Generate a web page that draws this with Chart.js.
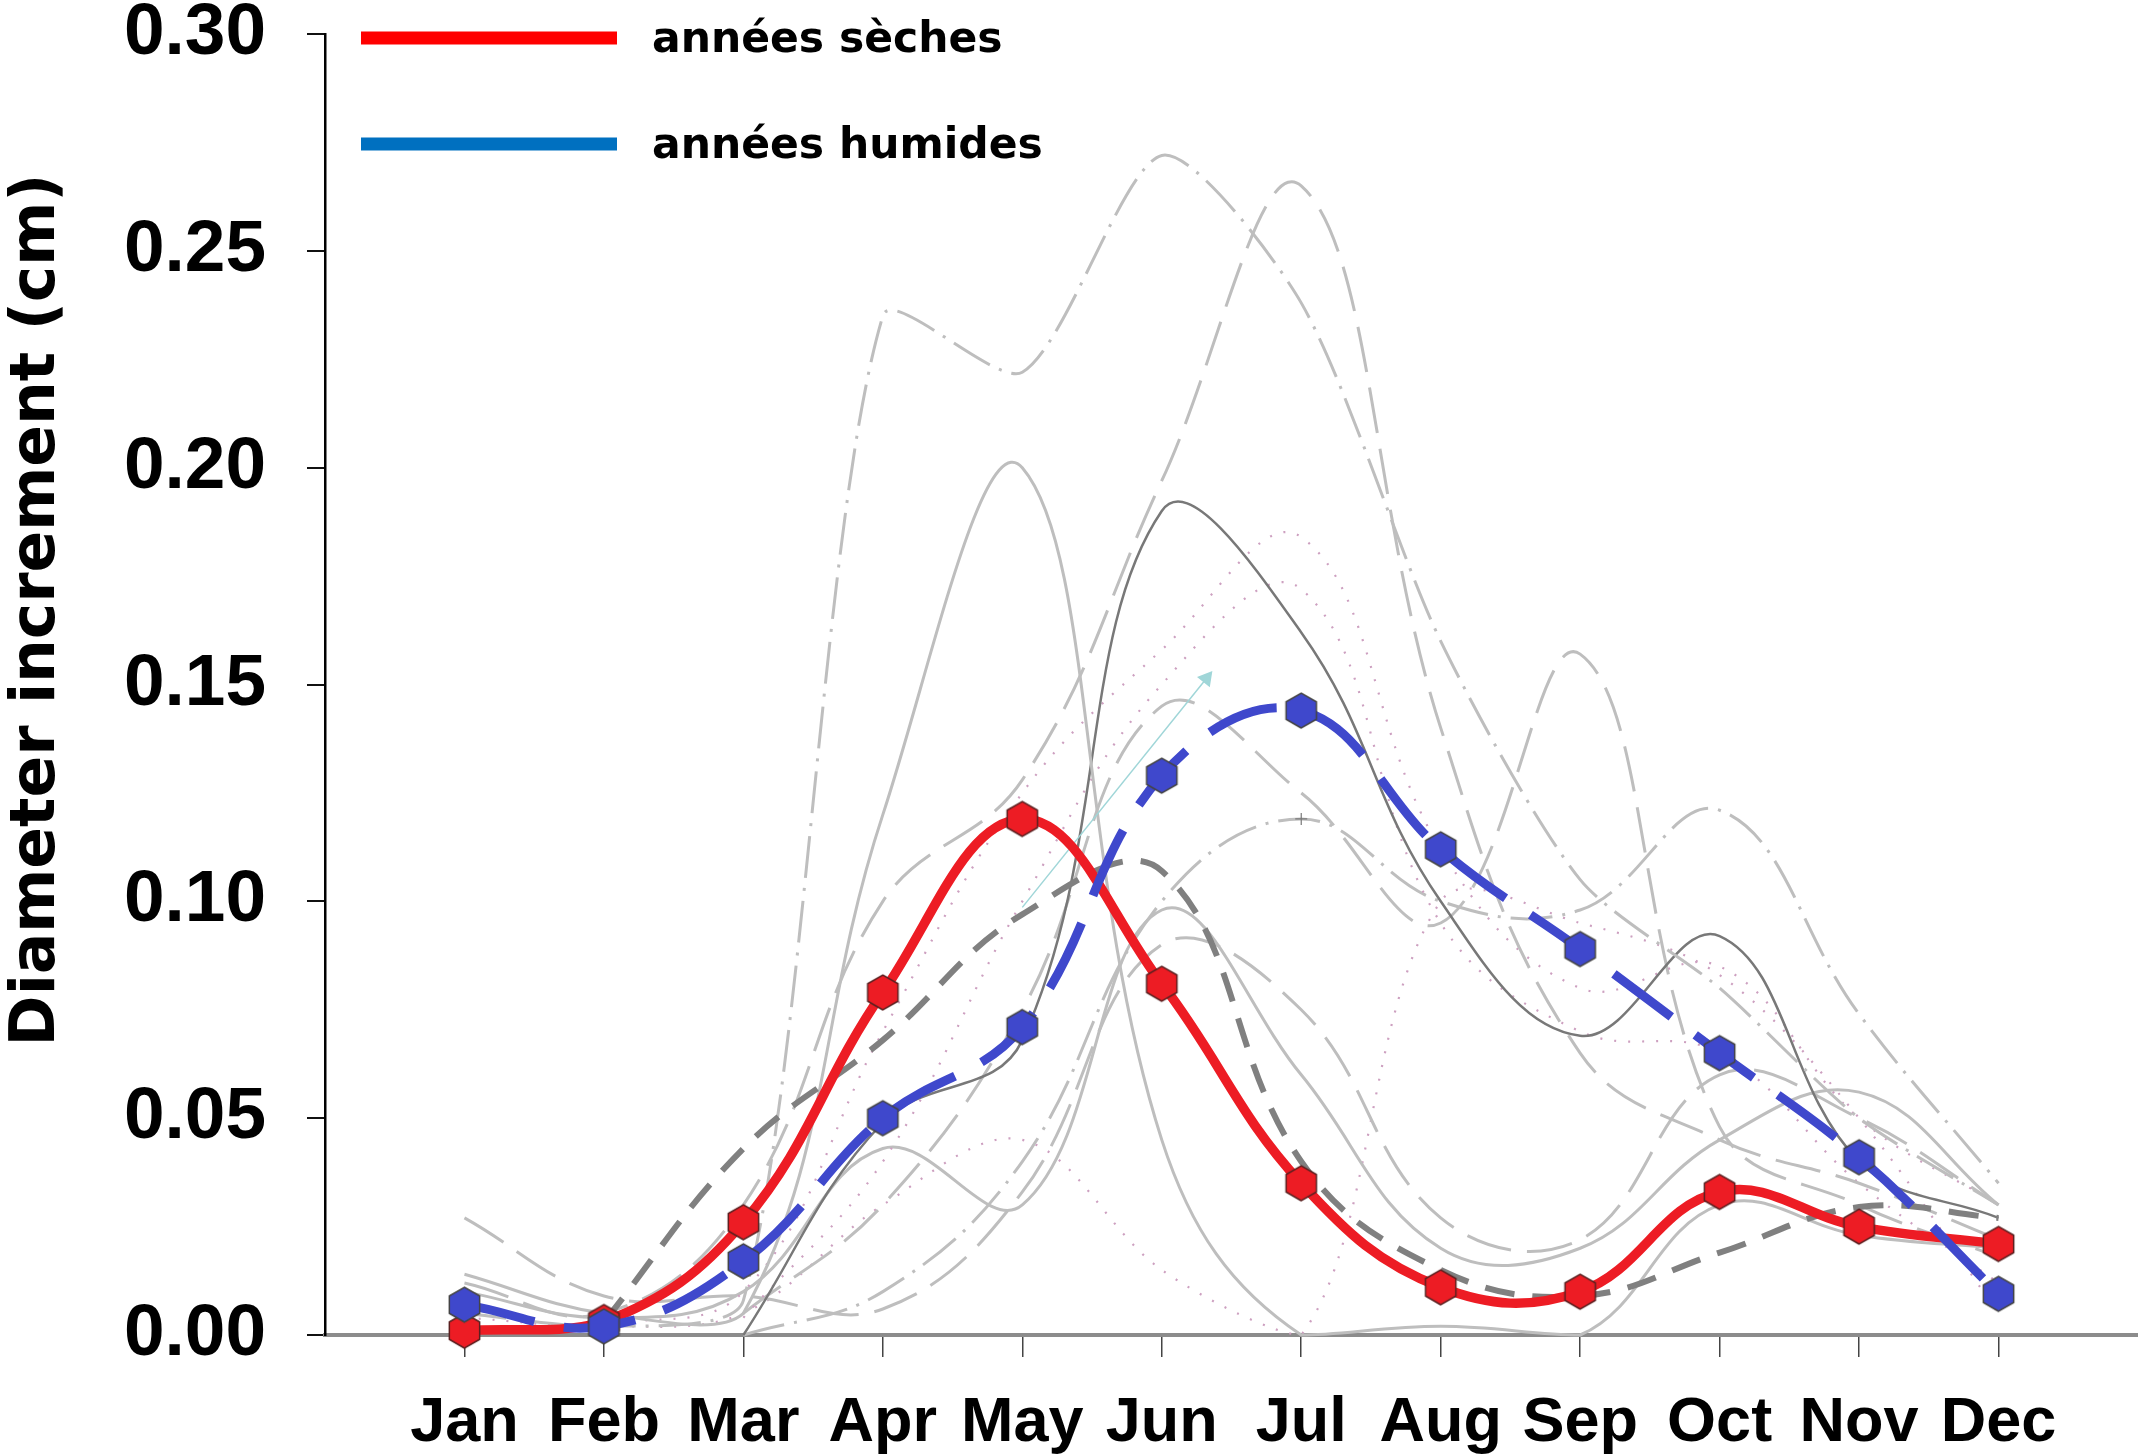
<!DOCTYPE html>
<html>
<head>
<meta charset="utf-8">
<title>Diameter increment</title>
<script src="https://cdn.jsdelivr.net/npm/chart.js"></script>
<style>
  html, body { margin: 0; padding: 0; background: #ffffff; }
  #wrap { width: 2138px; height: 1456px; position: relative; }
  canvas { display: block; }
</style>
</head>
<body>
<div id="wrap"><canvas id="chart" width="2138" height="1456"></canvas></div>
<script>
// ---- data -------------------------------------------------------------
const months = ['Jan', 'Feb', 'Mar', 'Apr', 'May', 'Jun', 'Jul', 'Aug', 'Sep', 'Oct', 'Nov', 'Dec'];

const drySeries = [0.001, 0.003, 0.026, 0.079, 0.119, 0.081, 0.035, 0.011, 0.010, 0.033, 0.025, 0.021];
const wetSeries = [0.007, 0.002, 0.017, 0.050, 0.071, 0.129, 0.144, 0.112, 0.089, 0.065, 0.041, 0.0095];
const allYearsMean = [null, 0.003, 0.043, 0.068, 0.097, 0.107, 0.040, 0.015, 0.009, 0.019, 0.0295, 0.027];

// individual years
const year1  = [0.005, 0.002, 0.008, 0.235, 0.222, 0.272, 0.238, 0.160, 0.105, 0.080, 0.050, 0.030];
const year2  = [0.012, 0.005, 0.030, 0.100, 0.128, 0.197, 0.265, 0.140, 0.065, 0.045, 0.035, 0.022];
const year3  = [0.014, 0.005, 0.005, 0.120, 0.200, 0.045, 0.000, 0.002, 0.000, 0.030, 0.023, 0.020];
const year4  = [null, null, 0.000, 0.049, 0.068, 0.190, 0.162, 0.100, 0.069, 0.092, 0.040, 0.027];
const year5  = [null, 0.002, 0.010, 0.070, 0.125, 0.158, 0.184, 0.112, 0.080, 0.085, 0.050, 0.030];
const year6  = [null, null, 0.004, 0.040, 0.100, 0.150, 0.172, 0.095, 0.070, 0.065, 0.035, 0.012];
const year7  = [null, null, 0.005, 0.030, 0.075, 0.145, 0.125, 0.095, 0.157, 0.048, 0.030, 0.018];
const year8  = [null, null, 0.000, 0.010, 0.040, 0.100, 0.119, 0.100, 0.098, 0.121, 0.074, 0.035];
const year9  = [0.010, 0.004, 0.010, 0.043, 0.030, 0.098, 0.060, 0.020, 0.020, 0.045, 0.056, 0.030];
const year10 = [0.027, 0.009, 0.009, 0.006, 0.033, 0.090, 0.075, 0.027, 0.022, 0.060, 0.050, 0.030];
const year11 = [0.004, 0.002, 0.005, 0.030, 0.045, 0.015, 0.000, 0.100, 0.095, 0.083, 0.050, 0.005];

// arrow annotation (month index, value)
const arrowX = [4, 5.32];
const arrowY = [0.0986, 0.1514];

const yTitle = 'Diameter increment (cm)';
const legendLabels = ['années sèches', 'années humides'];
const legendColors = ['#ff0000', '#0070c0'];

// ---- helpers ----------------------------------------------------------
function toPoints(values) {
  return values.map((v, i) => ({ x: i, y: v }));
}

function hexagon(fill, stroke, r) {
  const size = Math.ceil(2 * r + 4);
  const c = document.createElement('canvas');
  c.width = size; c.height = size;
  const g = c.getContext('2d');
  g.beginPath();
  for (let k = 0; k < 6; k++) {
    const a = Math.PI / 2 + k * Math.PI / 3;
    const px = size / 2 + r * Math.cos(a);
    const py = size / 2 + r * Math.sin(a);
    if (k === 0) g.moveTo(px, py); else g.lineTo(px, py);
  }
  g.closePath();
  g.fillStyle = fill;
  g.fill();
  g.lineWidth = 1.5;
  g.strokeStyle = stroke;
  g.stroke();
  return c;
}

const LIGHT = 'rgb(190,190,190)';
const DOTS = 'rgb(205,160,192)';
const lineStyles = {
  solid:    { color: LIGHT, width: 3, dash: [] },
  dark:     { color: 'rgb(120,120,120)', width: 2.5, dash: [] },
  longdash: { color: LIGHT, width: 3, dash: [46, 16] },
  dashdot:  { color: LIGHT, width: 3, dash: [42, 10, 3, 10] },
  dotted:   { color: DOTS, width: 2.2, dash: [2, 12] }
};

// [values, style, curve tension]
const yearLines = [
  [year1, 'dashdot', 0.25], [year2, 'longdash', 0.4], [year3, 'solid', 0.4], [year4, 'dark', 0.4],
  [year5, 'dotted', 0.4], [year6, 'dotted', 0.4], [year7, 'longdash', 0.4], [year8, 'dashdot', 0.4],
  [year9, 'solid', 0.4], [year10, 'longdash', 0.4], [year11, 'dotted', 0.35]
];

const yearDatasets = yearLines.map(([vals, styleName, tension], i) => {
  const st = lineStyles[styleName];
  const ds = {
    label: 'year ' + (i + 1),
    data: toPoints(vals),
    borderColor: st.color,
    backgroundColor: st.color,
    borderWidth: st.width,
    borderDash: st.dash,
    tension: tension,
    pointRadius: 0,
    fill: false,
    clip: 2,
    order: 10 + i
  };
  if (vals === year8) {
    ds.pointStyle = 'cross';
    ds.pointRadius = vals.map((_, k) => (k === 6 ? 6 : 0));
    ds.pointBorderColor = 'rgb(120,120,120)';
    ds.pointBorderWidth = 1.2;
  }
  return ds;
});

const FONT_NUM = "'Liberation Sans', Arial, sans-serif";
const FONT_TXT = "'DejaVu Sans', Verdana, sans-serif";

// ---- plugins ----------------------------------------------------------
const sideTitle = {
  id: 'sideTitle',
  afterDraw(chart) {
    const ctx = chart.ctx;
    ctx.save();
    ctx.translate(38, 610);
    ctx.rotate(-Math.PI / 2);
    ctx.font = 'bold 61.5px ' + FONT_TXT;
    ctx.fillStyle = '#000';
    ctx.textAlign = 'center';
    ctx.textBaseline = 'middle';
    ctx.fillText(yTitle, 0, 0);
    ctx.restore();
  }
};

const keyBox = {
  id: 'keyBox',
  afterDraw(chart) {
    const ctx = chart.ctx;
    ctx.save();
    legendLabels.forEach((text, i) => {
      const y = 38 + i * 106;
      ctx.strokeStyle = legendColors[i];
      ctx.lineWidth = 13;
      ctx.lineCap = 'butt';
      ctx.beginPath();
      ctx.moveTo(361, y);
      ctx.lineTo(617, y);
      ctx.stroke();
      ctx.font = 'bold 42.5px ' + FONT_TXT;
      ctx.fillStyle = '#000';
      ctx.textAlign = 'left';
      ctx.textBaseline = 'middle';
      ctx.fillText(text, 652, y + 3);
    });
    ctx.restore();
  }
};

// ---- chart ------------------------------------------------------------
const datasets = [
  {
    label: legendLabels[1],
    data: toPoints(wetSeries),
    borderColor: '#3f48cc',
    borderWidth: 9,
    borderDash: [72, 30],
    tension: 0.4,
    pointStyle: hexagon('#3f48cc', '#444', 17.5),
    pointRadius: 15,
    clip: false,
    fill: false,
    order: 0
  },
  {
    label: legendLabels[0],
    data: toPoints(drySeries),
    borderColor: '#ed1c24',
    borderWidth: 9.5,
    tension: 0.4,
    pointStyle: hexagon('#ed1c24', '#5a2020', 17.5),
    pointRadius: 15,
    clip: false,
    fill: false,
    order: 1
  },
  {
    label: 'mean',
    data: toPoints(allYearsMean),
    borderColor: 'rgb(128,128,128)',
    borderWidth: 6,
    borderDash: [30, 18],
    tension: 0.4,
    pointRadius: 0,
    fill: false,
    order: 2
  },
  {
    label: 'arrow',
    data: arrowX.map((x, i) => ({ x, y: arrowY[i] })),
    borderColor: 'rgb(160,214,216)',
    backgroundColor: 'rgb(160,214,216)',
    borderWidth: 1.5,
    tension: 0,
    pointStyle: 'triangle',
    pointRadius: [0, 8],
    pointRotation: [0, 39],
    fill: false,
    order: 3
  },
  ...yearDatasets
];

new Chart(document.getElementById('chart'), {
  type: 'line',
  data: { datasets },
  options: {
    responsive: false,
    animation: false,
    devicePixelRatio: 1,
    events: [],
    layout: { autoPadding: false, padding: { top: 34, right: 0, bottom: 0, left: 0 } },
    plugins: { legend: { display: false }, tooltip: { enabled: false } },
    scales: {
      x: {
        type: 'linear',
        min: -1,
        max: 12,
        afterBuildTicks: s => { s.ticks = s.ticks.filter(t => t.value >= 0 && t.value <= 11); },
        afterFit: s => { s.height = 121; s.paddingLeft = 0; s.paddingRight = 0; },
        ticks: {
          stepSize: 1,
          autoSkip: false,
          maxRotation: 0,
          padding: 29,
          color: '#000',
          font: { family: FONT_NUM, weight: 'bold', size: 63 },
          callback: v => months[v] ?? ''
        },
        grid: { drawOnChartArea: false, drawTicks: true, tickLength: 22, color: '#444', lineWidth: 1.5 },
        border: { display: true, color: 'rgb(140,140,140)', width: 4 }
      },
      y: {
        min: 0,
        max: 0.3,
        afterFit: s => { s.width = 325; s.paddingTop = 0; s.paddingBottom = 0; },
        ticks: {
          stepSize: 0.05,
          padding: 41,
          color: '#000',
          font: { family: FONT_NUM, weight: 'bold', size: 73 },
          callback: v => Number(v).toFixed(2)
        },
        grid: { drawOnChartArea: false, drawTicks: true, tickLength: 18, color: '#111', lineWidth: 2 },
        border: { display: true, color: '#000', width: 2.5 }
      }
    }
  },
  plugins: [sideTitle, keyBox]
});
</script>
</body>
</html>
